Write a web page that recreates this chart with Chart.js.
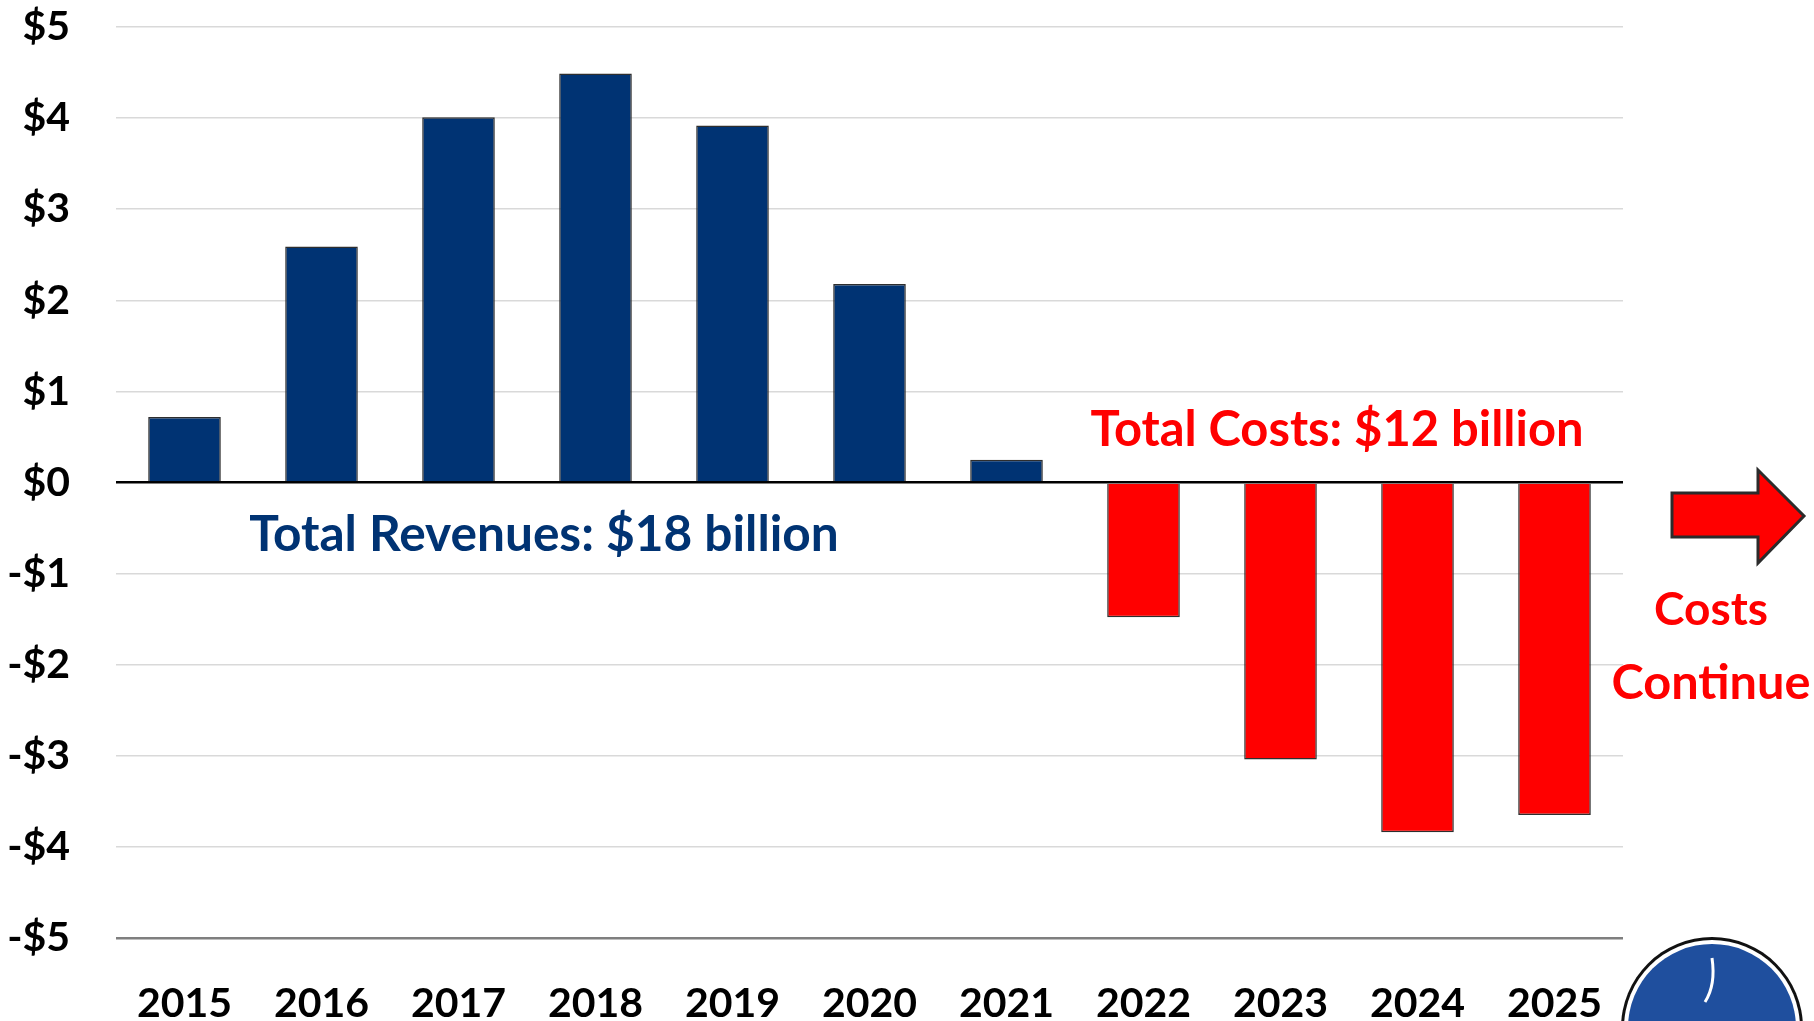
<!DOCTYPE html>
<html>
<head>
<meta charset="utf-8">
<script src="https://cdn.jsdelivr.net/npm/chart.js@4/dist/chart.umd.min.js"></script>
<style>
  html, body { margin: 0; padding: 0; background: #fff; }
  #wrap { width: 1814px; height: 1021px; position: relative; }
</style>
</head>
<body>
<div id="wrap"><canvas id="myChart" width="1814" height="1021"></canvas></div>
<script>
/*==== data ====*/
const years = ['2015', '2016', '2017', '2018', '2019', '2020', '2021', '2022', '2023', '2024', '2025'];
const netValues = [0.72, 2.59, 4.01, 4.49, 3.92, 2.18, 0.25, -1.48, -3.04, -3.84, -3.65];
const yTicks = [-5, -4, -3, -2, -1, 0, 1, 2, 3, 4, 5];

const NAVY = '#003373';
const RED = '#ff0000';
const FONT = 'Lato, "Open Sans", sans-serif';

// draw bold text scaled so it fills a given width
function fitText(ctx, text, cx, cy, width, color) {
    ctx.save();
    ctx.font = 'bold 100px ' + FONT;
    const w = ctx.measureText(text).width;
    const size = 100 * width / w;
    ctx.font = 'bold ' + size.toFixed(1) + 'px ' + FONT;
    ctx.fillStyle = color;
    ctx.textAlign = 'center';
    ctx.textBaseline = 'middle';
    ctx.fillText(text, cx, cy);
    ctx.restore();
}

/*==== annotations, arrow and badge ====*/
const extras = {
    id: 'extras',
    afterDraw(chart) {
        const ctx = chart.ctx;
        fitText(ctx, 'Total Revenues: $18 billion', 544, 535, 590, NAVY);
        fitText(ctx, 'Total Costs: $12 billion', 1337, 430, 493, RED);
        fitText(ctx, 'Costs', 1711, 610, 114, RED);
        fitText(ctx, 'Continue', 1711, 683, 199, RED);

        // arrow
        ctx.save();
        ctx.beginPath();
        ctx.moveTo(1672, 493);
        ctx.lineTo(1758, 493);
        ctx.lineTo(1758, 470);
        ctx.lineTo(1804, 516);
        ctx.lineTo(1758, 563);
        ctx.lineTo(1758, 537);
        ctx.lineTo(1672, 537);
        ctx.closePath();
        ctx.fillStyle = RED;
        ctx.fill();
        ctx.lineWidth = 3;
        ctx.strokeStyle = '#2b2b2b';
        ctx.lineJoin = 'miter';
        ctx.stroke();
        ctx.restore();

        // badge in the corner
        ctx.save();
        ctx.beginPath();
        ctx.arc(1712, 1028, 91, 0, Math.PI * 2);
        ctx.fillStyle = '#111';
        ctx.fill();
        ctx.beginPath();
        ctx.arc(1712, 1028, 88, 0, Math.PI * 2);
        ctx.fillStyle = '#fff';
        ctx.fill();
        ctx.beginPath();
        ctx.arc(1712, 1028, 84, 0, Math.PI * 2);
        ctx.fillStyle = '#1f4f9e';
        ctx.fill();
        ctx.strokeStyle = '#fff';
        ctx.lineWidth = 3;
        ctx.beginPath();
        ctx.moveTo(1712, 958);
        ctx.quadraticCurveTo(1716, 985, 1705, 1002);
        ctx.stroke();
        ctx.restore();
    }
};

/*=== config ====*/
const config = {
    type: 'bar',
    data: {
        labels: years,
        datasets: [{
            data: netValues,
            backgroundColor: netValues.map(v => v >= 0 ? NAVY : RED),
            borderColor: '#2e2e2e',
            borderWidth: 1.5,
            borderSkipped: 'start',
            categoryPercentage: 1,
            barPercentage: 0.53
        }]
    },
    options: {
        responsive: false,
        animation: false,
        layout: { padding: { left: 0, right: 191, top: 27, bottom: 0 } },
        plugins: { legend: { display: false }, tooltip: { enabled: false } },
        scales: {
            x: {
                grid: { display: false, drawTicks: false },
                border: { display: false },
                ticks: {
                    color: '#000',
                    padding: 41,
                    font: { family: FONT, size: 41, weight: 'bold' },
                    maxRotation: 0
                },
                afterFit(axis) {
                    axis.height = 83;
                    axis.paddingLeft = 0;
                    axis.paddingRight = 0;
                }
            },
            y: {
                min: -5,
                max: 5,
                afterBuildTicks(axis) { axis.ticks = yTicks.map(v => ({ value: v })); },
                grid: {
                    drawTicks: false,
                    color(c) {
                        if (c.tick.value === 0) return '#000';
                        if (c.tick.value === -5) return '#7f7f7f';
                        return '#d9d9d9';
                    },
                    lineWidth(c) {
                        return (c.tick.value === 0 || c.tick.value === -5) ? 2.5 : 1.5;
                    }
                },
                border: { display: false },
                ticks: {
                    color: '#000',
                    padding: 46,
                    font: { family: FONT, size: 41, weight: 'bold' },
                    callback: v => (v < 0 ? '-$' : '$') + Math.abs(v)
                },
                afterFit(axis) {
                    axis.width = 116;
                    axis.paddingTop = 0;
                    axis.paddingBottom = 0;
                }
            }
        }
    },
    plugins: [extras]
};

/*===== render =====*/
const myChart = new Chart(document.getElementById('myChart'), config);
</script>
</body>
</html>
